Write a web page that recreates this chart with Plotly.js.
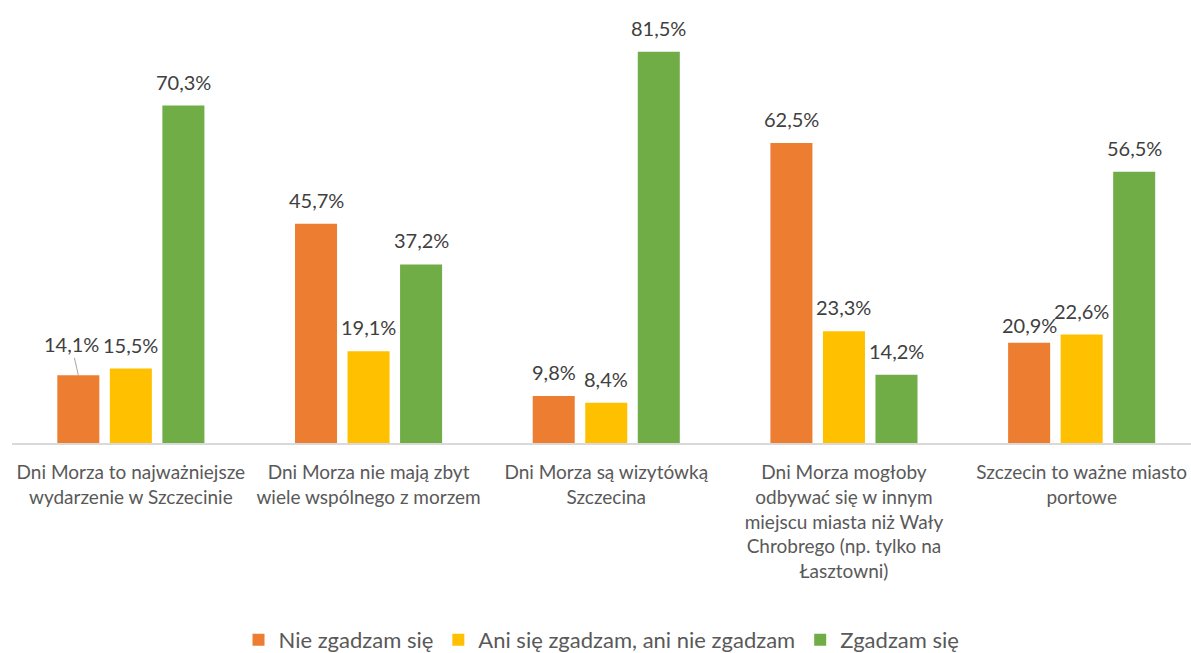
<!DOCTYPE html>
<html>
<head>
<meta charset="utf-8">
<script src="https://cdn.plot.ly/plotly-3.0.1.min.js"></script>
<style>html,body{margin:0;padding:0;background:#fff;}#chart{width:1191px;height:653px;}</style>
</head>
<body>
<div id="chart"></div>
<script>
const categories = [
  "Dni Morza to najważniejsze<br>wydarzenie w Szczecinie",
  "Dni Morza nie mają zbyt<br>wiele wspólnego z morzem",
  "Dni Morza są wizytówką<br>Szczecina",
  "Dni Morza mogłoby<br>odbywać się w innym<br>miejscu miasta niż Wały<br>Chrobrego (np. tylko na<br>Łasztowni)",
  "Szczecin to ważne miasto<br>portowe"
];
const seriesNames = ["Nie zgadzam się", "Ani się zgadzam, ani nie zgadzam", "Zgadzam się"];
const nieZgadzam = [14.1, 45.7, 9.8, 62.5, 20.9];
const ani = [15.5, 19.1, 8.4, 23.3, 22.6];
const zgadzam = [70.3, 37.2, 81.5, 14.2, 56.5];
const colors = ["#ED7D31", "#FFC000", "#70AD47"];

const FONT = "Lato, 'Open Sans', sans-serif";
const fmt = v => v.toFixed(1).replace(".", ",") + "%";
const xIdx = categories.map((c, i) => i);
const allSeries = [nieZgadzam, ani, zgadzam];

const data = allSeries.map((vals, s) => ({
  type: "bar",
  name: seriesNames[s],
  x: xIdx,
  y: vals,
  marker: {color: colors[s]},
  textposition: "none",
  hoverinfo: "skip"
}));

// data labels as annotations (built from the arrays)
const SLOT = 52.5;
const annotations = [];
allSeries.forEach((vals, s) => {
  vals.forEach((v, i) => {
    const a = {
      x: i, y: v, xref: "x", yref: "y",
      xshift: (s - 1) * SLOT,
      yanchor: "bottom",
      yshift: 10,
      text: fmt(v),
      showarrow: false,
      font: {family: FONT, size: 20, color: "#404040"}
    };
    if (s === 0 && i === 0) {
      // label moved aside with a leader line
      Object.assign(a, {
        yanchor: "auto", yshift: 0,
        showarrow: true, arrowhead: 0, arrowwidth: 1, arrowcolor: "#A6A6A6",
        ax: -7, ay: -31
      });
    }
    if (s === 0 && i === 4) a.yshift = 4;
    annotations.push(a);
  });
});

const layout = {
  width: 1191,
  height: 653,
  margin: {l: 12, r: 0, t: 11, b: 210},
  paper_bgcolor: "#fff",
  plot_bgcolor: "#fff",
  barmode: "group",
  bargap: 0.337,
  bargroupgap: 0.2,
  showlegend: true,
  font: {family: FONT, color: "#595959"},
  xaxis: {
    tickmode: "array",
    tickvals: xIdx,
    ticktext: categories,
    range: [-0.5, 4.46],
    showline: true,
    linecolor: "#D9D9D9",
    linewidth: 1.5,
    ticks: "",
    ticklabelstandoff: 12,
    showgrid: false,
    zeroline: false,
    tickfont: {family: FONT, size: 19, color: "#595959"},
    fixedrange: true
  },
  yaxis: {
    range: [0, 90],
    visible: false,
    showgrid: false,
    zeroline: false,
    fixedrange: true
  },
  legend: {
    orientation: "h",
    x: 0.5,
    xanchor: "center",
    yref: "container",
    y: 0.02,
    yanchor: "middle",
    font: {family: FONT, size: 22, color: "#595959"},
    itemclick: false,
    traceorder: "normal"
  },
  annotations: annotations
};

Plotly.newPlot("chart", data, layout, {displayModeBar: false, staticPlot: true});
</script>
</body>
</html>
